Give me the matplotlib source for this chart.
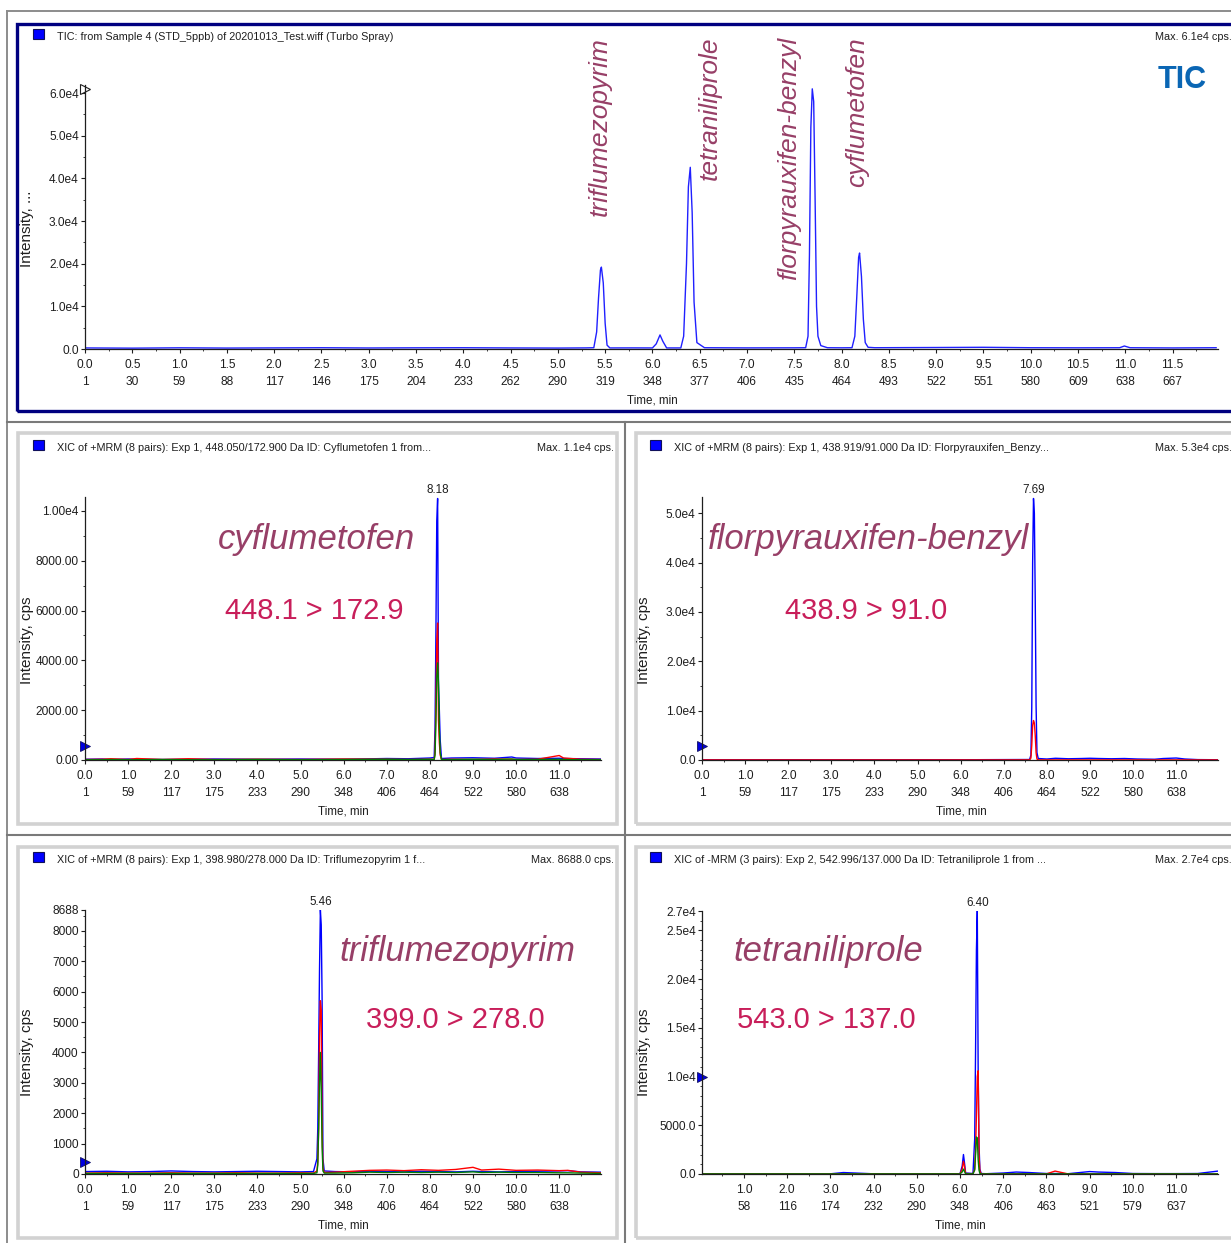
import matplotlib
matplotlib.use("Agg")
import matplotlib.pyplot as plt
from matplotlib.patches import Rectangle
from matplotlib.ticker import MultipleLocator

# ---- data ----

# TIC (blue trace only)
tic_time = [0.00, 0.50, 1.00, 1.50, 2.00, 2.50, 3.00, 3.50, 4.00, 4.50, 5.00, 5.30,
            5.38, 5.41, 5.43, 5.45, 5.46, 5.48, 5.50, 5.52, 5.55, 5.80,
            6.00, 6.04, 6.08, 6.11, 6.15,
            6.30, 6.33, 6.36, 6.38, 6.40, 6.42, 6.44, 6.47, 6.55, 7.00, 7.50,
            7.62, 7.645, 7.66, 7.675, 7.69, 7.705, 7.72, 7.735, 7.75, 7.78, 7.85, 8.00,
            8.11, 8.14, 8.16, 8.18, 8.19, 8.21, 8.23, 8.25, 8.28, 8.35,
            9.00, 9.50, 10.00, 10.50, 10.94, 10.99, 11.05, 11.50, 11.96]
tic_int = [250, 200, 280, 220, 260, 300, 240, 280, 300, 250, 220, 260,
           300, 4000, 12000, 18500, 19200, 15500, 6000, 900, 250, 260,
           250, 1200, 3300, 1800, 250,
           250, 3000, 20000, 38000, 42600, 32000, 11000, 1500, 300, 260, 280,
           300, 3000, 22000, 52000, 61000, 58000, 35000, 10000, 3000, 800, 300, 280,
           300, 3000, 12000, 21500, 22500, 17000, 7000, 1500, 400, 300,
           350, 400, 300, 280, 300, 700, 300, 250, 300]
tic_ticks = [0.0, 0.5, 1.0, 1.5, 2.0, 2.5, 3.0, 3.5, 4.0, 4.5, 5.0, 5.5,
             6.0, 6.5, 7.0, 7.5, 8.0, 8.5, 9.0, 9.5, 10.0, 10.5, 11.0, 11.5]
tic_scans = [1, 30, 59, 88, 117, 146, 175, 204, 233, 262, 290, 319,
             348, 377, 406, 435, 464, 493, 522, 551, 580, 609, 638, 667]
tic_yticks = [0, 10000, 20000, 30000, 40000, 50000, 60000]
tic_ylabels = ["0.0", "1.0e4", "2.0e4", "3.0e4", "4.0e4", "5.0e4", "6.0e4"]
tic_names = ["triflumezopyrim", "tetraniliprole", "florpyrauxifen-benzyl", "cyflumetofen"]

xic_ticks = [0.0, 1.0, 2.0, 3.0, 4.0, 5.0, 6.0, 7.0, 8.0, 9.0, 10.0, 11.0]
xic_scans = [1, 59, 117, 175, 233, 290, 348, 406, 464, 522, 580, 638]
tet_ticks = [1.0, 2.0, 3.0, 4.0, 5.0, 6.0, 7.0, 8.0, 9.0, 10.0, 11.0]
tet_scans = [58, 116, 174, 232, 290, 348, 406, 463, 521, 579, 637]

# cyflumetofen XIC
cyf_time = [0.0, 0.4, 0.6, 1.0, 1.2, 1.8, 2.4, 3.0, 4.0, 5.0, 6.0, 7.0, 7.5, 8.00,
            8.10, 8.12, 8.14, 8.16, 8.18, 8.20, 8.22, 8.24, 8.27,
            8.5, 9.0, 9.5, 9.9, 10.0, 10.5, 11.0, 11.1, 11.5, 11.97]
cyf_blue = [30, 40, 20, 40, 30, 20, 30, 40, 30, 40, 30, 60, 50, 80,
            100, 1300, 5000, 9600, 10500, 3100, 2000, 800, 60,
            80, 90, 70, 120, 80, 60, 70, 60, 50, 40]
cyf_red = [20, 30, 50, 20, 60, 20, 50, 20, 30, 20, 40, 30, 20, 30,
           20, 300, 2200, 4800, 5500, 1600, 700, 200, 20,
           30, 20, 40, 30, 20, 30, 180, 80, 30, 20]
cyf_green = [10, 10, 20, 10, 10, 20, 10, 10, 20, 10, 20, 30, 20, 30,
             20, 200, 1500, 3300, 3900, 3100, 1200, 300, 20,
             20, 30, 20, 40, 20, 20, 30, 20, 10, 10]
cyf_yticks = [0, 2000, 4000, 6000, 8000, 10000]
cyf_ylabels = ["0.00", "2000.00", "4000.00", "6000.00", "8000.00", "1.00e4"]

# florpyrauxifen-benzyl XIC
flo_time = [0.0, 1.0, 2.0, 3.0, 4.0, 5.0, 6.0, 7.0, 7.60, 7.63, 7.65, 7.67, 7.69, 7.71,
            7.73, 7.75, 7.77, 7.80, 8.0, 8.2, 8.5, 8.8, 9.0, 9.2, 9.5, 9.8, 10.1,
            10.5, 10.7, 11.0, 11.2, 11.5, 11.97]
flo_blue = [50, 50, 60, 50, 50, 60, 50, 80, 100, 1000, 10700, 40000, 53000, 50000,
            33000, 11000, 1500, 300, 200, 350, 250, 300, 350, 300, 250, 300, 200,
            150, 300, 400, 200, 80, 50]
flo_red = [20, 20, 20, 20, 20, 20, 20, 20, 30, 400, 3000, 7000, 8000, 7500,
           5000, 1500, 200, 30, 20, 20, 20, 20, 20, 20, 20, 20, 20,
           20, 20, 20, 20, 20, 20]
flo_yticks = [0, 10000, 20000, 30000, 40000, 50000]
flo_ylabels = ["0.0", "1.0e4", "2.0e4", "3.0e4", "4.0e4", "5.0e4"]

# triflumezopyrim XIC
tri_time = [0.0, 0.5, 1.0, 1.5, 2.0, 2.5, 3.0, 3.5, 4.0, 4.5, 5.0, 5.30,
            5.38, 5.40, 5.42, 5.44, 5.46, 5.48, 5.50, 5.52, 5.55,
            5.8, 6.2, 6.6, 7.0, 7.4, 7.8, 8.2, 8.6, 9.0, 9.2, 9.6, 10.0, 10.5,
            11.0, 11.2, 11.5, 11.97]
tri_blue = [80, 90, 70, 80, 100, 80, 70, 80, 90, 80, 70, 80,
            500, 1500, 4000, 6700, 8688, 8200, 5800, 500, 100,
            80, 70, 90, 80, 70, 90, 80, 70, 90, 80, 70, 80, 90,
            100, 110, 70, 60]
tri_red = [30, 40, 30, 30, 40, 30, 30, 40, 30, 30, 40, 30,
           100, 400, 1500, 4500, 5700, 5400, 1500, 200, 50,
           60, 90, 120, 130, 110, 140, 120, 150, 220, 130, 160, 120, 130,
           110, 120, 60, 40]
tri_green = [20, 20, 20, 20, 20, 20, 20, 20, 20, 20, 20, 20,
             40, 300, 1500, 3000, 4000, 2800, 900, 100, 30,
             30, 40, 60, 50, 60, 50, 60, 50, 70, 50, 60, 50, 50,
             40, 40, 30, 20]
tri_yticks = [0, 1000, 2000, 3000, 4000, 5000, 6000, 7000, 8000, 8688]
tri_ylabels = ["0", "1000", "2000", "3000", "4000", "5000", "6000", "7000", "8000", "8688"]

# tetraniliprole XIC
tet_time = [0.03, 1.0, 2.0, 3.0, 3.3, 4.0, 5.0, 5.8, 6.00, 6.05, 6.08, 6.10, 6.13,
            6.30, 6.34, 6.36, 6.38, 6.40, 6.42, 6.44, 6.46, 6.49,
            6.6, 7.0, 7.3, 7.6, 8.0, 8.2, 8.5, 9.0, 9.2, 9.6, 10.0, 10.5, 11.0, 11.5, 11.97]
tet_blue = [20, 20, 20, 20, 150, 20, 20, 20, 30, 800, 2000, 1300, 100,
            50, 3600, 12600, 23000, 27000, 10800, 3000, 500, 50,
            30, 100, 200, 150, 50, 50, 30, 250, 200, 150, 50, 40, 40, 50, 300]
tet_red = [10, 10, 10, 10, 10, 10, 10, 10, 20, 500, 1300, 900, 50,
           30, 500, 2500, 6000, 10000, 10600, 2000, 300, 20,
           10, 10, 10, 10, 10, 300, 10, 10, 10, 10, 10, 10, 10, 10, 10]
tet_green = [10, 10, 10, 10, 10, 10, 10, 10, 10, 200, 500, 300, 20,
             20, 400, 2000, 3800, 3700, 1500, 400, 50, 10,
             10, 10, 10, 10, 10, 10, 10, 10, 10, 10, 10, 10, 10, 10, 10]
tet_yticks = [0, 5000, 10000, 15000, 20000, 25000, 27000]
tet_ylabels = ["0.0", "5000.0", "1.0e4", "1.5e4", "2.0e4", "2.5e4", "2.7e4"]

# ---- figure ----
W, H = 1231, 1243
fig = plt.figure(figsize=(W / 100, H / 100), dpi=100)

small_font = ['Liberation Sans Narrow', 'Liberation Sans', 'DejaVu Sans']
big_font = ['Liberation Sans', 'DejaVu Sans']
name_color = '#973f67'
mrm_color = '#c81e5a'
ink = '#1e1e1e'


def rect(x0, y0, x1, y1):
    # pixel box (top-left origin) -> figure fraction
    return [x0 / W, 1 - y1 / H, (x1 - x0) / W, (y1 - y0) / H]


def fxy(x, y):
    return x / W, 1 - y / H


def frame(x0, y0, x1, y1, color, lw, face='none', z=0):
    fig.patches.append(Rectangle(fxy(x0, y1), (x1 - x0) / W, (y1 - y0) / H,
                                 transform=fig.transFigure, facecolor=face,
                                 edgecolor=color, linewidth=lw, zorder=z))


def line(xs, ys, color, lw):
    fig.add_artist(plt.Line2D([x / W for x in xs], [1 - y / H for y in ys],
                              color=color, linewidth=lw, transform=fig.transFigure))


def header(x_sq, y, text, max_text, x_max):
    # square sits a little higher than the text line
    frame(x_sq, y - 8, x_sq + 11, y + 2, '#10105a', 0.8, face='#0000ff', z=3)
    fig.text(*fxy(x_sq + 24, y), text, ha='left', va='center', fontsize=7.8,
             family=small_font, color=ink)
    fig.text(*fxy(x_max, y), max_text, ha='right', va='center', fontsize=7.8,
             family=small_font, color=ink)


def make_axes(box, xlim, ylim, xticks, scans, yticks, ylabels, xminor, yminor):
    ax = fig.add_axes(rect(*box))
    ax.set_xlim(*xlim)
    ax.set_ylim(*ylim)
    ax.patch.set_alpha(0)
    for s in ['top', 'right']:
        ax.spines[s].set_visible(False)
    for s in ['left', 'bottom']:
        ax.spines[s].set_color(ink)
        ax.spines[s].set_linewidth(0.9)
    ax.set_xticks(xticks)
    ax.set_xticklabels([f"{t:.1f}\n{s}" for t, s in zip(xticks, scans)],
                       family=small_font, fontsize=8.6, linespacing=1.55)
    ax.set_yticks(yticks)
    ax.set_yticklabels(ylabels, family=small_font, fontsize=8.6)
    ax.xaxis.set_minor_locator(MultipleLocator(xminor))
    ax.yaxis.set_minor_locator(MultipleLocator(yminor))
    ax.tick_params(which='major', direction='out', length=3, width=0.8, colors=ink)
    ax.tick_params(axis='x', which='major', pad=4.5)
    ax.tick_params(axis='y', which='major', pad=1.5)
    ax.tick_params(which='minor', direction='out', length=1.6, width=0.6, colors=ink)
    return ax


# window frames
line([7, 1231], [11, 11], '#8c8c8c', 1.4)
line([7, 7], [11, 1243], '#8c8c8c', 1.4)
frame(17, 24, 1245, 411, '#000080', 2.4)
line([7, 1231], [422, 422], '#7a7a7a', 1.5)
line([7, 1231], [835, 835], '#7a7a7a', 1.5)
line([625, 625], [422, 1243], '#7a7a7a', 1.5)
for (x0, x1) in [(18, 617), (636, 1245)]:
    for (y0, y1) in [(433, 824), (847, 1238)]:
        frame(x0, y0, x1, y1, '#d2d2d2', 2.6)

# ---- TIC ----
header(33, 37, "TIC: from Sample 4 (STD_5ppb) of 20201013_Test.wiff (Turbo Spray)",
       "Max. 6.1e4 cps.", 1232)
ax = make_axes((85, 85, 1218, 349), (0, 11.98), (0, 61900), tic_ticks, tic_scans,
               tic_yticks, tic_ylabels, 0.25, 5000)
ax.plot(tic_time, tic_int, color='#2020ff', lw=1.0)
ax.plot([0], [61000], marker='>', ms=7, mfc='white', mec=ink, mew=0.8, clip_on=False)
fig.text(*fxy(27, 229), "Intensity, ...", rotation=90, ha='center', va='center',
         fontsize=11, family=small_font, color=ink)
fig.text(*fxy(652, 400), "Time, min", ha='center', va='center', fontsize=8.4,
         family=small_font, color=ink)
fig.text(*fxy(1182, 80), "TIC", ha='center', va='center', fontsize=22,
         fontweight='bold', family=small_font, color='#0a66b4')
for name, xc in zip(tic_names, [600, 710, 789, 857]):
    fig.text(*fxy(xc, 37), name, rotation=90, ha='center', va='top', fontsize=19,
             style='italic', family=big_font, color=name_color)

# ---- XIC panels ----
xic_panels = [
    dict(sq=33, hy=448, head="XIC of +MRM (8 pairs): Exp 1, 448.050/172.900 Da ID: Cyflumetofen 1 from...",
         mx="Max. 1.1e4 cps.", xmax=614, box=(85, 497, 601, 760), xlim=(0, 11.97),
         ymax=10560, xt=xic_ticks, sc=xic_scans, yt=cyf_yticks, yl=cyf_ylabels, ymin=1000,
         t=cyf_time, traces=[cyf_blue, cyf_red, cyf_green], rt="8.18", thr=560,
         name="cyflumetofen", name_xy=(316, 539), mrm="448.1 > 172.9", mrm_xy=(314, 611),
         ylab_xy=(27, 640), tlab_xy=(343, 812)),
    dict(sq=650, hy=448, head="XIC of +MRM (8 pairs): Exp 1, 438.919/91.000 Da ID: Florpyrauxifen_Benzy...",
         mx="Max. 5.3e4 cps.", xmax=1232, box=(702, 497, 1218, 760), xlim=(0, 11.97),
         ymax=53300, xt=xic_ticks, sc=xic_scans, yt=flo_yticks, yl=flo_ylabels, ymin=5000,
         t=flo_time, traces=[flo_blue, flo_red], rt="7.69", thr=2800,
         name="florpyrauxifen-benzyl", name_xy=(868, 539), mrm="438.9 > 91.0", mrm_xy=(866, 611),
         ylab_xy=(644, 640), tlab_xy=(961, 812)),
    dict(sq=33, hy=860, head="XIC of +MRM (8 pairs): Exp 1, 398.980/278.000 Da ID: Triflumezopyrim 1 f...",
         mx="Max. 8688.0 cps.", xmax=614, box=(85, 910, 601, 1174), xlim=(0, 11.97),
         ymax=8688, xt=xic_ticks, sc=xic_scans, yt=tri_yticks, yl=tri_ylabels, ymin=500,
         t=tri_time, traces=[tri_blue, tri_red, tri_green], rt="5.46", thr=400,
         name="triflumezopyrim", name_xy=(457, 951), mrm="399.0 > 278.0", mrm_xy=(455, 1020),
         ylab_xy=(27, 1052), tlab_xy=(343, 1226)),
    dict(sq=650, hy=860, head="XIC of -MRM (3 pairs): Exp 2, 542.996/137.000 Da ID: Tetraniliprole 1 from ...",
         mx="Max. 2.7e4 cps.", xmax=1232, box=(702, 911, 1218, 1174), xlim=(0.03, 11.97),
         ymax=27000, xt=tet_ticks, sc=tet_scans, yt=tet_yticks, yl=tet_ylabels, ymin=1000,
         t=tet_time, traces=[tet_blue, tet_red, tet_green], rt="6.40", thr=10000,
         name="tetraniliprole", name_xy=(828, 951), mrm="543.0 > 137.0", mrm_xy=(826, 1020),
         ylab_xy=(644, 1052), tlab_xy=(960, 1226)),
]
trace_colors = ['#0000ff', '#ff0000', '#008000']

for p in xic_panels:
    header(p['sq'], p['hy'], p['head'], p['mx'], p['xmax'])
    ax = make_axes(p['box'], p['xlim'], (0, p['ymax']), p['xt'], p['sc'],
                   p['yt'], p['yl'], 0.5, p['ymin'])
    for vals, c in zip(p['traces'], trace_colors):
        ax.plot(p['t'], vals, color=c, lw=1.0)
    top = max(p['traces'][0])
    ax.annotate(p['rt'], (p['t'][p['traces'][0].index(top)], top), xytext=(0, 1.5),
                textcoords='offset points', ha='center', va='bottom', fontsize=8.4,
                family=small_font, color=ink, annotation_clip=False)
    ax.plot([p['xlim'][0]], [p['thr']], marker='>', ms=7, mfc='#0000e0', mec='#101060',
            mew=0.6, clip_on=False)
    fig.text(*fxy(*p['ylab_xy']), "Intensity, cps", rotation=90, ha='center',
             va='center', fontsize=11, family=small_font, color=ink)
    fig.text(*fxy(*p['tlab_xy']), "Time, min", ha='center', va='center', fontsize=8.4,
             family=small_font, color=ink)
    fig.text(*fxy(*p['name_xy']), p['name'], ha='center', va='center', fontsize=25,
             style='italic', family=big_font, color=name_color)
    fig.text(*fxy(*p['mrm_xy']), p['mrm'], ha='center', va='center', fontsize=21,
             family=big_font, color=mrm_color)

fig.savefig("out.png", dpi=100)
